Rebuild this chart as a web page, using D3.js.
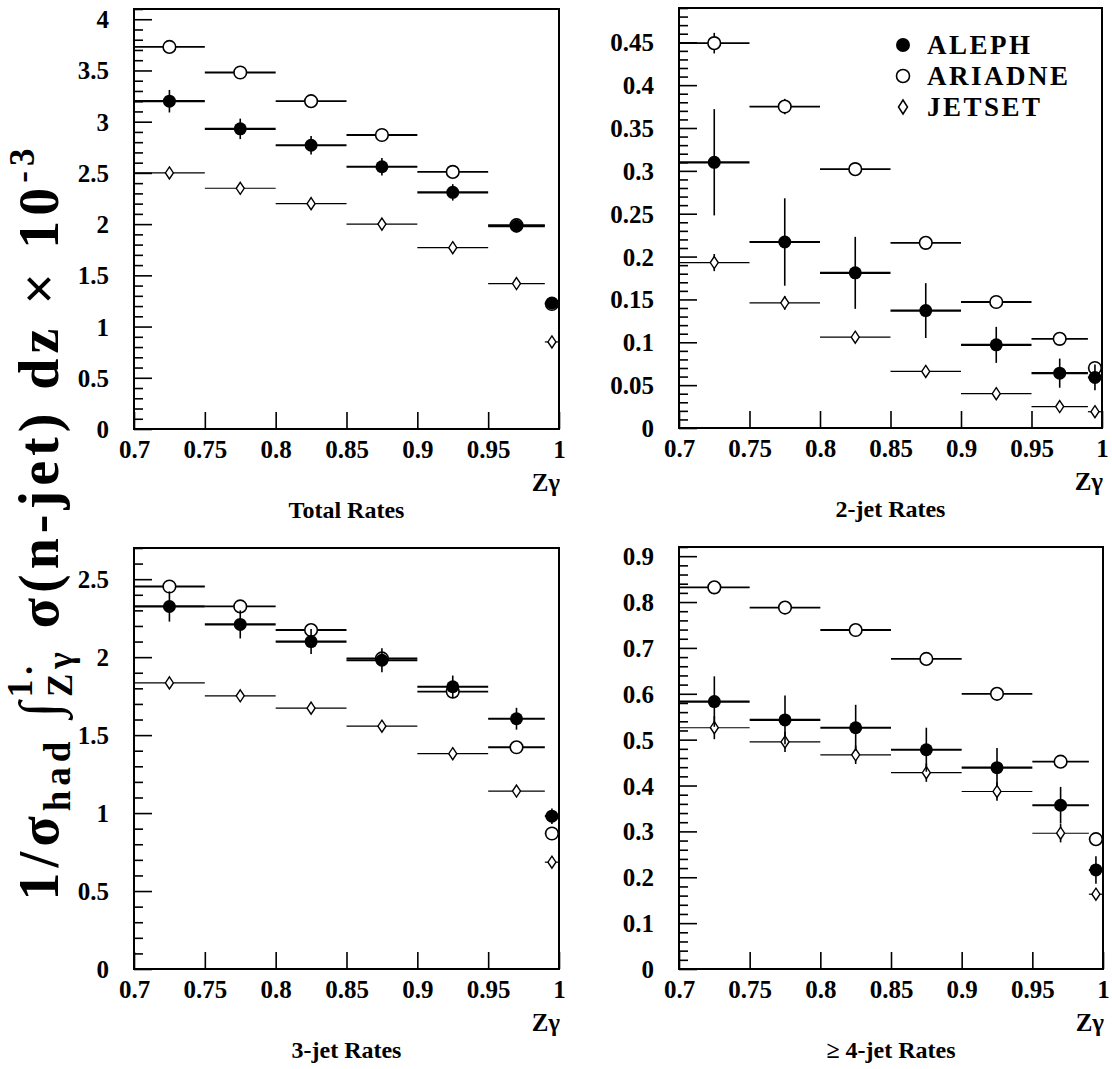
<!DOCTYPE html>
<html>
<head>
<meta charset="utf-8">
<script src="https://cdn.jsdelivr.net/npm/d3@7"></script>
<style>
  body { margin: 0; background: #fff; }
  text { font-family: "Liberation Serif", "Times New Roman", serif; font-weight: bold; fill: #000; }
</style>
</head>
<body>
<svg id="chart" width="1112" height="1069"></svg>
<script>
// bins in z_gamma (edges) and the points drawn at bin centres
const zEdges = [0.7, 0.75, 0.8, 0.85, 0.9, 0.95, 0.99, 1.0];
const zCentres = [0.725, 0.775, 0.825, 0.875, 0.925, 0.97, 0.995];
const xTicks = [0.7, 0.75, 0.8, 0.85, 0.9, 0.95, 1];

// Total rates
const totalAleph     = [3.20, 2.93, 2.77, 2.56, 2.31, 1.98, 1.23];
const totalAlephErr  = [0.11, 0.10, 0.09, 0.085, 0.08, 0.06, 0.05];
const totalAriadne   = [3.73, 3.48, 3.20, 2.87, 2.51, 1.99, 1.22];
const totalAriadneErr= [0.02, 0.02, 0.02, 0.02, 0.02, 0.02, 0.02];
const totalJetset    = [2.50, 2.35, 2.20, 2.00, 1.77, 1.42, 0.85];
const totalJetsetErr = [0.02, 0.02, 0.02, 0.02, 0.02, 0.02, 0.02];

// 2-jet rates
const twoAleph       = [0.310, 0.217, 0.181, 0.137, 0.097, 0.064, 0.059];
const twoAlephErr    = [0.062, 0.051, 0.042, 0.032, 0.021, 0.017, 0.015];
const twoAriadne     = [0.449, 0.375, 0.302, 0.216, 0.147, 0.104, 0.070];
const twoAriadneErr  = [0.012, 0.009, 0.007, 0.005, 0.004, 0.003, 0.003];
const twoJetset      = [0.193, 0.146, 0.106, 0.066, 0.040, 0.025, 0.019];
const twoJetsetErr   = [0.010, 0.008, 0.006, 0.004, 0.003, 0.003, 0.003];

// 3-jet rates
const threeAleph     = [2.325, 2.21, 2.10, 1.98, 1.81, 1.605, 0.98];
const threeAlephErr  = [0.097, 0.09, 0.08, 0.077, 0.072, 0.07, 0.05];
const threeAriadne   = [2.453, 2.325, 2.174, 1.992, 1.779, 1.422, 0.869];
const threeAriadneErr= [0.02, 0.02, 0.02, 0.02, 0.02, 0.02, 0.02];
const threeJetset    = [1.835, 1.752, 1.673, 1.557, 1.381, 1.141, 0.685];
const threeJetsetErr = [0.02, 0.02, 0.02, 0.02, 0.02, 0.02, 0.02];

// >=4-jet rates
const fourAleph      = [0.583, 0.543, 0.526, 0.478, 0.439, 0.357, 0.216];
const fourAlephErr   = [0.055, 0.053, 0.050, 0.048, 0.043, 0.040, 0.030];
const fourAriadne    = [0.832, 0.788, 0.739, 0.676, 0.600, 0.452, 0.283];
const fourAriadneErr = [0.008, 0.008, 0.007, 0.006, 0.005, 0.005, 0.004];
const fourJetset     = [0.526, 0.495, 0.467, 0.428, 0.387, 0.296, 0.163];
const fourJetsetErr  = [0.025, 0.022, 0.020, 0.020, 0.020, 0.020, 0.012];

const panelTitles = ["Total Rates", "2-jet Rates", "3-jet Rates", "\u2265 4-jet Rates"];
const legendNames = ["ALEPH", "ARIADNE", "JETSET"];

// axis ranges: [max, major step, minor step]
const yRanges = [[4.1, 0.5, 0.1], [0.49, 0.05, 0.01], [2.7, 0.5, 0.1], [0.92, 0.1, 0.02]];

// layout of the four frames
const boxes = [
  { left: 134, right: 559, top: 9, bottom: 429 },
  { left: 679, right: 1102, top: 8, bottom: 428 },
  { left: 134, right: 559, top: 548, bottom: 969 },
  { left: 679, right: 1103, top: 547, bottom: 969 }
];

const panelData = [
  [totalAleph, totalAlephErr, totalAriadne, totalAriadneErr, totalJetset, totalJetsetErr],
  [twoAleph, twoAlephErr, twoAriadne, twoAriadneErr, twoJetset, twoJetsetErr],
  [threeAleph, threeAlephErr, threeAriadne, threeAriadneErr, threeJetset, threeJetsetErr],
  [fourAleph, fourAlephErr, fourAriadne, fourAriadneErr, fourJetset, fourJetsetErr]
];

const svg = d3.select("#chart");
const fmt = d3.format(".2~f");

function diamond(cx, cy, w, h) {
  return `M${cx},${cy - h}L${cx + w},${cy}L${cx},${cy + h}L${cx - w},${cy}Z`;
}

function drawSeries(g, x, y, vals, errs, kind) {
  const pts = vals.map((v, i) => ({ v: v, e: errs[i], c: zCentres[i], lo: zEdges[i], hi: zEdges[i + 1] }));
  const barW = kind === "aleph" ? 2.2 : kind === "ariadne" ? 1.8 : 1.2;
  const s = g.append("g");
  // horizontal bin bars
  s.selectAll(".hbar").data(pts).enter().append("line")
    .attr("x1", d => x(d.lo)).attr("x2", d => x(d.hi))
    .attr("y1", d => y(d.v)).attr("y2", d => y(d.v))
    .attr("stroke", "#000").attr("stroke-width", barW);
  // vertical error bars
  s.selectAll(".vbar").data(pts).enter().append("line")
    .attr("x1", d => x(d.c)).attr("x2", d => x(d.c))
    .attr("y1", d => y(d.v - d.e)).attr("y2", d => y(d.v + d.e))
    .attr("stroke", "#000").attr("stroke-width", 1.6);
  if (kind === "aleph") {
    s.selectAll(".m").data(pts).enter().append("circle")
      .attr("cx", d => x(d.c)).attr("cy", d => y(d.v)).attr("r", 6.5)
      .attr("fill", "#000");
  } else if (kind === "ariadne") {
    s.selectAll(".m").data(pts).enter().append("circle")
      .attr("cx", d => x(d.c)).attr("cy", d => y(d.v)).attr("r", 6.3)
      .attr("fill", "#fff").attr("stroke", "#000").attr("stroke-width", 1.6);
  } else {
    s.selectAll(".m").data(pts).enter().append("path")
      .attr("d", d => diamond(x(d.c), y(d.v), 4, 6))
      .attr("fill", "#fff").attr("stroke", "#000").attr("stroke-width", 1.4);
  }
}

boxes.forEach((b, p) => {
  const [yMax, major, minor] = yRanges[p];
  const x = d3.scaleLinear().domain([0.7, 1.0]).range([b.left, b.right]);
  const y = d3.scaleLinear().domain([0, yMax]).range([b.bottom, b.top]);
  const g = svg.append("g");

  const majors = d3.range(0, yMax + 1e-9, major).map(v => +v.toFixed(3));
  const minors = d3.range(0, yMax + 1e-9, minor).map(v => +v.toFixed(3))
    .filter(v => !majors.some(m => Math.abs(m - v) < 1e-6));

  // y axis: minor ticks then major ticks with labels (ticks point inwards)
  g.append("g").attr("transform", `translate(${b.left},0)`)
    .call(d3.axisLeft(y).tickValues(minors).tickSizeInner(-9).tickSizeOuter(0).tickFormat(""))
    .call(a => a.select(".domain").remove());
  g.append("g").attr("class", "yaxis").attr("transform", `translate(${b.left},0)`)
    .call(d3.axisLeft(y).tickValues(majors).tickSizeInner(-18).tickSizeOuter(0).tickPadding(25).tickFormat(fmt))
    .call(a => a.select(".domain").remove());

  // x axis
  g.append("g").attr("transform", `translate(0,${b.bottom})`)
    .call(d3.axisBottom(x).tickValues(xTicks).tickSizeInner(-17).tickSizeOuter(0).tickPadding(11).tickFormat(fmt))
    .call(a => a.select(".domain").remove());

  g.selectAll(".tick line").attr("stroke", "#000").attr("stroke-width", 1.6);
  g.selectAll(".tick text").style("font-size", "25px").attr("fill", "#000");
  g.selectAll(".yaxis .tick text").attr("dy", "0.34em");

  // frame
  g.append("rect")
    .attr("x", b.left).attr("y", b.top)
    .attr("width", b.right - b.left).attr("height", b.bottom - b.top)
    .attr("fill", "none").attr("stroke", "#000").attr("stroke-width", 2);

  const [al, alE, ar, arE, js, jsE] = panelData[p];
  drawSeries(g, x, y, js, jsE, "jetset");
  drawSeries(g, x, y, ar, arE, "ariadne");
  drawSeries(g, x, y, al, alE, "aleph");

  // z_gamma label and panel title
  g.append("text")
    .attr("x", b.right + 1).attr("y", b.bottom + 62)
    .attr("text-anchor", "end").style("font-size", "25px")
    .text("Z\u03b3");
  g.append("text")
    .attr("x", (b.left + b.right) / 2).attr("y", b.bottom + 89)
    .attr("text-anchor", "middle").style("font-size", "24px")
    .text(panelTitles[p]);
});

// legend in the 2-jet panel
const legend = svg.append("g");
const legY = d3.scalePoint().domain(legendNames).range([45, 107]);
legendNames.forEach((name, i) => {
  const cy = legY(name);
  if (i === 0) legend.append("circle").attr("cx", 903).attr("cy", cy).attr("r", 7).attr("fill", "#000");
  if (i === 1) legend.append("circle").attr("cx", 903).attr("cy", cy).attr("r", 6.5)
    .attr("fill", "#fff").attr("stroke", "#000").attr("stroke-width", 1.6);
  if (i === 2) legend.append("path").attr("d", diamond(903, cy, 4.5, 7))
    .attr("fill", "#fff").attr("stroke", "#000").attr("stroke-width", 1.5);
  legend.append("text")
    .attr("x", 927).attr("y", cy).attr("dy", "0.35em")
    .style("font-size", "27px").style("letter-spacing", "2.5px")
    .text(name);
});

// shared y-axis label
const ylab = svg.append("text")
  .attr("transform", "translate(58,522) rotate(-90)")
  .attr("text-anchor", "middle")
  .style("font-size", "56px")
  .style("letter-spacing", "5px");
ylab.append("tspan").text("1/\u03c3");
ylab.append("tspan").attr("dy", 12).style("font-size", "37px").text("had");
ylab.append("tspan").attr("dy", -12).text(" \u222b");
ylab.append("tspan").attr("dy", -26).style("font-size", "35px").text("1.");
ylab.append("tspan").attr("dx", -36).attr("dy", 40).style("font-size", "35px").text("Z\u03b3");
ylab.append("tspan").attr("dy", -14).text(" \u03c3(n-jet) dz \u00d7 10");
ylab.append("tspan").attr("dy", -24).style("font-size", "35px").text("-3");
</script>
</body>
</html>
